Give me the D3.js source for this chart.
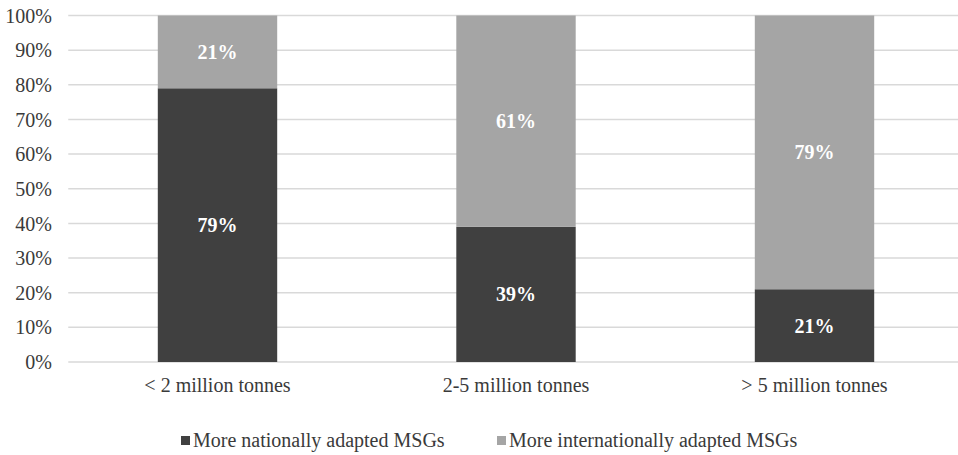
<!DOCTYPE html>
<html><head><meta charset="utf-8">
<script src="https://cdn.jsdelivr.net/npm/d3@7"></script>
<style>
html,body{margin:0;padding:0;background:#fff;overflow:hidden}
svg{display:block}
svg text{font-family:"Liberation Serif","Times New Roman",Times,"DejaVu Serif",serif !important}
</style></head>
<body>
<svg id="chart" width="958" height="455"></svg>
<script>
const categories = ["< 2 million tonnes", "2-5 million tonnes", "> 5 million tonnes"];
const nationalValues = [79, 39, 21];
const internationalValues = [21, 61, 79];
const seriesNames = ["More nationally adapted MSGs", "More internationally adapted MSGs"];
const yTicks = [0,10,20,30,40,50,60,70,80,90,100];
const colors = ["#404040", "#a5a5a5"];

const svg = d3.select("#chart");
const plotLeft = 68.25, band = 298.5;
const x = d3.scaleBand().domain(categories).range([plotLeft, plotLeft + band*3]).paddingInner(0.6).paddingOuter(0.3);
const y = d3.scaleLinear().domain([0,100]).range([362, 15.5]);

// gridlines
svg.append("g").selectAll("line").data(yTicks).join("line")
  .attr("x1", plotLeft).attr("x2", 958)
  .attr("y1", d=>y(d)).attr("y2", d=>y(d))
  .attr("stroke", "#d9d9d9").attr("stroke-width", 1.5);

// y axis labels
const yAxis = d3.axisLeft(y).tickValues(yTicks).tickFormat(d=>d+"%").tickSize(0).tickPadding(0);
const gy = svg.append("g").attr("transform","translate(52,0)").call(yAxis).attr("font-family", null);
gy.select(".domain").remove();
gy.selectAll("text").attr("font-size", 20).attr("fill", "#3a3a3a").attr("dy","0.33em");

// x axis labels
const xAxis = d3.axisBottom(x).tickSize(0).tickPadding(0);
const gx = svg.append("g").attr("transform","translate(0,392)").call(xAxis).attr("font-family", null);
gx.select(".domain").remove();
gx.selectAll("text").attr("font-size", 20).attr("fill", "#3a3a3a").attr("dy","0").attr("y",0);

// stacked data
const rows = categories.map((c,i)=>({cat:c, nat:nationalValues[i], intl:internationalValues[i]}));
const stack = d3.stack().keys(["nat","intl"])(rows);

const layers = svg.append("g").selectAll("g").data(stack).join("g").attr("fill",(d,i)=>colors[i]);
layers.selectAll("rect").data(d=>d).join("rect")
  .attr("x", d=>x(d.data.cat)).attr("width", x.bandwidth())
  .attr("y", d=>y(d[1])).attr("height", d=>y(d[0])-y(d[1]));

// data labels
layers.selectAll("text").data(d=>d).join("text")
  .attr("x", d=>x(d.data.cat)+x.bandwidth()/2)
  .attr("y", d=>(y(d[0])+y(d[1]))/2)
  .attr("dy","0.35em")
  .attr("text-anchor","middle")
  .attr("font-size",20).attr("font-weight","bold").attr("fill","#fff")
  .text(d=>(d[1]-d[0])+"%");

// legend
const legendItems = [{name:seriesNames[0], color:colors[0], x:181},{name:seriesNames[1], color:colors[1], x:497}];
const lg = svg.append("g").selectAll("g").data(legendItems).join("g")
  .attr("transform", d=>`translate(${d.x},447)`);
lg.append("rect").attr("x",0).attr("y",-11).attr("width",9).attr("height",9).attr("fill",d=>d.color);
lg.append("text").attr("x",12).attr("y",0).attr("font-size",20).attr("fill","#3a3a3a").text(d=>d.name);
</script>
</body></html>
